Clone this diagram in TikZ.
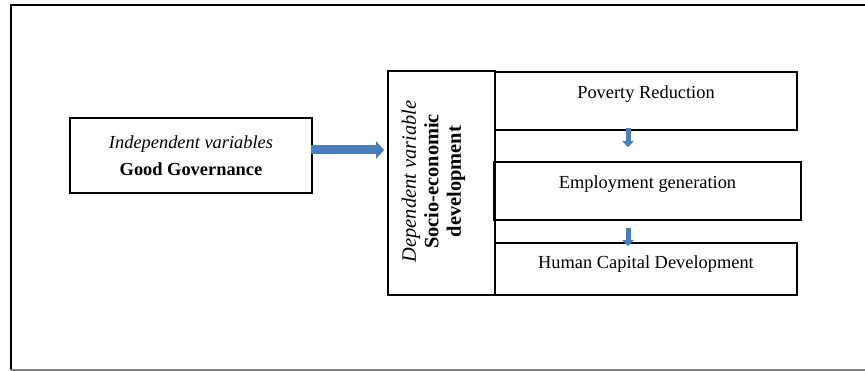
\documentclass[tikz,border=0pt]{standalone}
\usepackage{fontspec}
\setmainfont{Liberation Serif}
\usepackage{tikz}
\usetikzlibrary{arrows.meta,calc}

\definecolor{arrowblue}{HTML}{4A7EBB}

\tikzset{
  box/.style={draw=black, line width=1.6pt, inner sep=0pt,
    font=\fontsize{18.4}{27}\selectfont},
  topbox/.style={box, text height=13pt, text depth=#1},
  bigarrow/.style={draw=arrowblue, line width=9pt,
    -{Triangle[width=17pt,length=8pt]}},
  smallarrow/.style={draw=arrowblue, line width=5pt,
    -{Triangle[width=11pt,length=6pt]}}
}

\begin{document}
\begin{tikzpicture}[x=1pt,y=-1pt]
      \useasboundingbox (0,0) rectangle (865,371);
      \draw [line width=1.8pt] (865,5) -- (11,5) -- (11,370);
      \draw [line width=1.2pt, gray] (11,370) -- (865,370);

      \node [box, minimum width=242, minimum height=75, align=center] (indep) at (191,155.5)
        {\textit{Independent variables}\\\textbf{Good Governance}};
      \node [box, minimum width=107, minimum height=224] (dep) at (441.5,183) {};
      \node [rotate=90, align=center, inner sep=0pt,
        font=\fontsize{20.4}{22.5}\selectfont] (deptext) at ([xshift=-8pt,yshift=1.5pt]dep.center)
        {\textit{Dependent variable}\\\textbf{Socio-economic}\\\textbf{development}};

      \node [topbox=18pt, minimum width=302, minimum height=58] (pov) at (646,101) {Poverty Reduction};
      \node [topbox=18pt, minimum width=307, minimum height=58] (emp) at (647.5,191) {Employment generation};
      \node [topbox=13pt, minimum width=302, minimum height=52] (hcd) at (646,269) {Human Capital Development};

      \coordinate (gg) at ([yshift=5.5pt]indep.east);
      \draw [bigarrow, shorten <=-2pt, shorten >=3pt] (gg) -- (gg -| dep.west);

      \coordinate (p1) at ([xshift=-18pt]pov.south);
      \draw [smallarrow, shorten <=-3pt, shorten >=14pt] (p1) -- (p1 |- emp.north);
      \coordinate (e1) at (p1 |- emp.south);
      \draw [smallarrow, shorten <=7pt, shorten >=-4pt] (e1) -- (e1 |- hcd.north);
    \end{tikzpicture}
\end{document}
